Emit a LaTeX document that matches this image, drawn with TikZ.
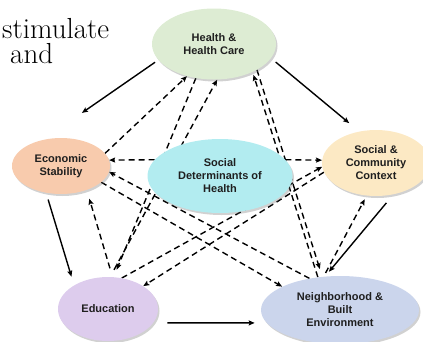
\documentclass[tikz,border=0pt]{standalone}
\usepackage{fontspec}
\setsansfont{Liberation Sans}
\usepackage{xcolor}
\usetikzlibrary{shapes.geometric, arrows.meta, shadows}

\definecolor{carefill}{RGB}{221,236,211}
\definecolor{econfill}{RGB}{248,203,173}
\definecolor{sdohfill}{RGB}{178,236,240}
\definecolor{commfill}{RGB}{252,233,196}
\definecolor{edufill}{RGB}{221,204,237}
\definecolor{hoodfill}{RGB}{203,213,236}

\pgfdeclarelayer{background}
\pgfsetlayers{background,main}

\begin{document}
\begin{tikzpicture}[
    x=1pt, y=-1pt,
    factor/.style={ellipse, draw=none, inner sep=0pt, align=center, text=black!88, font=\sffamily\bfseries\fontsize{11}{13}\selectfont, drop shadow={shadow xshift=1.5pt, shadow yshift=-2pt, opacity=0.3, fill=black!60}},
    link/.style={-{Stealth[length=6pt, width=5pt, inset=1pt]}, line width=1.4pt, color=black},
    flow/.style={link, dash pattern=on 6pt off 4pt},
    caption/.style={anchor=base west, inner sep=0pt, align=left, font=\fontsize{29}{25}\selectfont}
]
\useasboundingbox (0,0) rectangle (423,341);

% Leftover slide text
\node[caption] (stim) at (2,63) {stimulate\\\hspace*{8pt}and};

% Outer ring of factors
\node[factor, fill=carefill, minimum width=124pt, minimum height=71pt] (care) at (214,44) {Health \&\\ Health Care};
\node[factor, fill=econfill, minimum width=98pt, minimum height=56pt] (econ) at (61,166) {Economic\\ Stability};
\node[factor, fill=commfill, minimum width=108pt, minimum height=66pt] (comm) at (376,163) {Social \&\\ Community\\ Context};
\node[factor, fill=edufill, minimum width=100pt, minimum height=64pt] (edu) at (108,309) {Education};
\node[factor, fill=hoodfill, minimum width=158pt, minimum height=68pt] (hood) at (340,310) {Neighborhood \&\\ Built\\ Environment};

% Centre
\node[factor, fill=sdohfill, minimum width=145pt, minimum height=74pt] (sdoh) at (220,176) {Social\\ Determinants of\\ Health};

\begin{pgfonlayer}{background}
% Solid arrows round the ring
\draw[link, shorten <=4pt, shorten >=47pt] (care.196) -- (econ.124);
\draw[link, shorten <=6pt, shorten >=13pt] (care.346) -- (comm.118);
\draw[link, shorten <=7pt, shorten >=9pt] (econ.241) -- (edu.145);
\draw[link, shorten <=14pt, shorten >=12pt] (edu.343) -- (hood.190);
\draw[link, shorten <=11pt, shorten >=6pt] (comm.299) -- (hood.114);

% Dashed cross links
\draw[flow] (econ.16) -- (care.230);
\draw[flow] (sdoh.166) -- (econ.7);
\draw[flow] (sdoh.14) -- (comm.177);
\draw[flow, shorten >=8pt] (care.242) -- (edu.80);
\draw[flow, shorten <=8pt] (edu.86) -- (care.275);
\draw[flow, shorten <=9pt, shorten >=9pt] (edu.82) -- (econ.317);
\draw[flow] (hood.134) -- (econ.353);
\draw[flow] (econ.338) -- (hood.158);
\draw[flow, shorten >=3pt] (hood.124) -- (care.324);
\draw[flow, shorten >=8pt] (care.329) -- (hood.118);
\draw[flow] (edu.66) -- (comm.184);
\draw[flow] (comm.190) -- (edu.33);
\draw[flow, shorten <=4pt, shorten >=4pt] (hood.116) -- (comm.254);
\end{pgfonlayer}

\end{tikzpicture}
\end{document}
